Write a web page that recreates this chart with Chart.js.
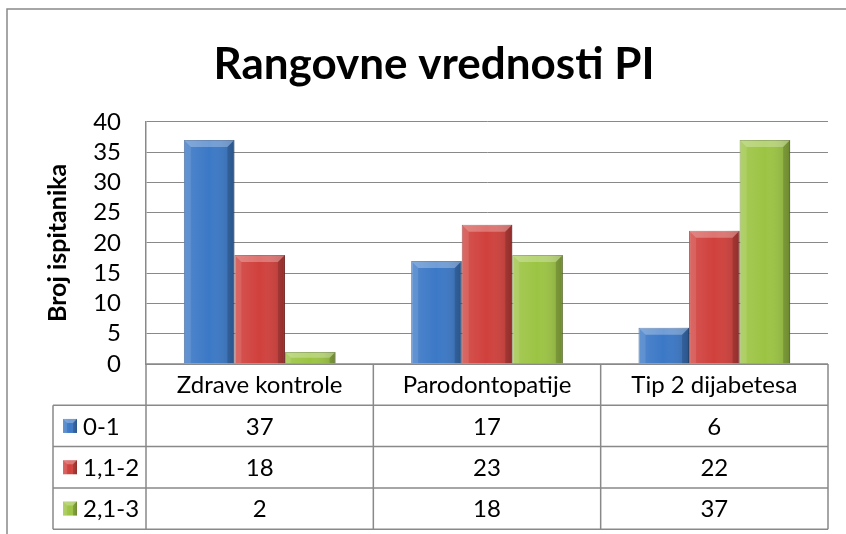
<!DOCTYPE html>
<html>
<head>
<meta charset="utf-8">
<script src="https://cdn.jsdelivr.net/npm/chart.js@4.4.0/dist/chart.umd.min.js"></script>
<style>
  html, body { margin: 0; padding: 0; background: #fff; }
  #okvir { width: 846px; height: 534px; position: relative; }
</style>
</head>
<body>
<div id="okvir"><canvas id="grafik"></canvas></div>
<script>
// podaci sa grafika
const naslov = 'Rangovne vrednosti PI';
const nazivOse = 'Broj ispitanika';
const kategorije = ['Zdrave kontrole', 'Parodontopatije', 'Tip 2 dijabetesa'];
const serije = ['0-1', '1,1-2', '2,1-3'];
const vrednosti01 = [37, 17, 6];
const vrednosti12 = [18, 23, 22];
const vrednosti23 = [2, 18, 37];
const yPodeoci = [0, 5, 10, 15, 20, 25, 30, 35, 40];

const FONT = 'Lato, "Open Sans", sans-serif';
const boje = ['#3b78c6', '#d0403c', '#9cc443'];
const ivice = ['#2c5a96', '#9c2e2b', '#6f8f2a'];
const SIVA = '#898989';

// okvir oko celog grafika
const okvirPlugin = {
    id: 'okvir',
    beforeDraw(chart) {
        const ctx = chart.ctx;
        ctx.save();
        ctx.fillStyle = '#fff';
        ctx.fillRect(0, 0, chart.width, chart.height);
        ctx.strokeStyle = SIVA;
        ctx.lineWidth = 1.5;
        ctx.strokeRect(7, 9, chart.width + 20, chart.height + 20);
        ctx.restore();
    }
};

// reljef na stubicima (kao u Excelu)
function reljef(ctx, levo, vrh, desno, dno, b) {
    const g = ctx.createLinearGradient(levo, 0, desno, 0);
    g.addColorStop(0, 'rgba(255,255,255,0.12)');
    g.addColorStop(0.5, 'rgba(255,255,255,0.0)');
    g.addColorStop(1, 'rgba(0,0,0,0.18)');
    ctx.fillStyle = g;
    ctx.fillRect(levo, vrh, desno - levo, dno - vrh);
    ctx.fillStyle = 'rgba(255,255,255,0.28)';
    ctx.beginPath();
    ctx.moveTo(levo, vrh); ctx.lineTo(desno, vrh);
    ctx.lineTo(desno - b, vrh + b); ctx.lineTo(levo + b, vrh + b);
    ctx.closePath(); ctx.fill();
    ctx.fillStyle = 'rgba(255,255,255,0.1)';
    ctx.beginPath();
    ctx.moveTo(levo, vrh); ctx.lineTo(levo + b, vrh + b);
    ctx.lineTo(levo + b, dno); ctx.lineTo(levo, dno);
    ctx.closePath(); ctx.fill();
    ctx.fillStyle = 'rgba(0,0,0,0.15)';
    ctx.beginPath();
    ctx.moveTo(desno, vrh); ctx.lineTo(desno - b, vrh + b);
    ctx.lineTo(desno - b, dno); ctx.lineTo(desno, dno);
    ctx.closePath(); ctx.fill();
}

const reljefPlugin = {
    id: 'reljef',
    afterDatasetsDraw(chart) {
        const ctx = chart.ctx;
        ctx.save();
        chart.data.datasets.forEach((ds, i) => {
            chart.getDatasetMeta(i).data.forEach(bar => {
                const p = bar.getProps(['x', 'y', 'base', 'width'], true);
                const levo = p.x - p.width / 2, desno = p.x + p.width / 2;
                const visina = p.base - p.y;
                reljef(ctx, levo, p.y, desno, p.base, Math.min(7, visina / 2));
            });
        });
        ctx.restore();
    }
};

// tabela sa podacima ispod grafika
const tabelaPlugin = {
    id: 'tabela',
    afterDraw(chart) {
        const { ctx, chartArea, scales } = chart;
        const x = scales.x;
        const levo = chartArea.left, desno = chartArea.right, vrh = chartArea.bottom;
        const red = 41.3;
        const legLevo = 53;
        const pola = (desno - levo) / kategorije.length / 2;
        const podaci = [vrednosti01, vrednosti12, vrednosti23];

        ctx.save();
        ctx.strokeStyle = SIVA;
        ctx.lineWidth = 1.5;
        ctx.beginPath();
        // horizontalne linije
        ctx.moveTo(levo, vrh); ctx.lineTo(desno, vrh);
        for (let r = 1; r <= 4; r++) {
            ctx.moveTo(legLevo, vrh + r * red); ctx.lineTo(desno, vrh + r * red);
        }
        // vertikalne linije
        ctx.moveTo(legLevo, vrh + red); ctx.lineTo(legLevo, vrh + 4 * red);
        ctx.moveTo(levo, vrh); ctx.lineTo(levo, vrh + 4 * red);
        kategorije.forEach((k, i) => {
            const xd = x.getPixelForValue(i) + pola;
            ctx.moveTo(xd, vrh); ctx.lineTo(xd, vrh + 4 * red);
        });
        ctx.stroke();

        ctx.fillStyle = '#000';
        ctx.font = '24px ' + FONT;
        ctx.textBaseline = 'middle';
        ctx.textAlign = 'center';
        kategorije.forEach((k, i) => {
            const xc = x.getPixelForValue(i);
            ctx.fillText(k, xc, vrh + red / 2 + 1);
            podaci.forEach((niz, s) => {
                ctx.fillText(String(niz[i]), xc, vrh + (s + 1.5) * red + 1);
            });
        });
        ctx.textAlign = 'left';
        serije.forEach((s, i) => {
            const yc = vrh + (i + 1.5) * red;
            const k = 14;
            ctx.fillStyle = boje[i];
            ctx.fillRect(63, yc - k / 2, k, k);
            reljef(ctx, 63, yc - k / 2, 63 + k, yc + k / 2, 4);
            ctx.fillStyle = '#000';
            ctx.fillText(s, 83, yc + 1);
        });
        ctx.restore();
    }
};

const ctx = document.getElementById('grafik').getContext('2d');
const grafik = new Chart(ctx, {
    type: 'bar',
    data: {
        labels: kategorije,
        datasets: [
            { label: serije[0], data: vrednosti01, backgroundColor: boje[0], borderColor: ivice[0], borderWidth: 1 },
            { label: serije[1], data: vrednosti12, backgroundColor: boje[1], borderColor: ivice[1], borderWidth: 1 },
            { label: serije[2], data: vrednosti23, backgroundColor: boje[2], borderColor: ivice[2], borderWidth: 1 }
        ]
    },
    options: {
        responsive: true,
        maintainAspectRatio: false,
        animation: false,
        categoryPercentage: 0.667,
        barPercentage: 1.0,
        layout: { padding: { left: 40, right: 18, top: 0, bottom: 170 } },
        scales: {
            x: { display: false },
            y: {
                min: 0,
                max: 40,
                afterBuildTicks: (scale) => { scale.ticks = yPodeoci.map(v => ({ value: v })); },
                afterFit: (scale) => { scale.width = 106; },
                ticks: { color: '#000', font: { family: FONT, size: 24, lineHeight: 1 }, padding: 25, autoSkip: false },
                grid: { color: SIVA, lineWidth: 1, drawTicks: false },
                border: { display: true, color: SIVA, width: 1.5 },
                title: {
                    display: true,
                    text: nazivOse,
                    color: '#000',
                    font: { family: FONT, size: 25, weight: 'bold', lineHeight: 1.2 },
                    padding: { top: 3, bottom: 0 }
                }
            }
        },
        plugins: {
            legend: { display: false },
            tooltip: { enabled: false },
            title: {
                display: true,
                text: naslov,
                color: '#000',
                font: { family: FONT, size: 44, weight: 'bold', lineHeight: 1.2 },
                padding: { top: 38, bottom: 31 }
            }
        }
    },
    plugins: [okvirPlugin, reljefPlugin, tabelaPlugin]
});
</script>
</body>
</html>
